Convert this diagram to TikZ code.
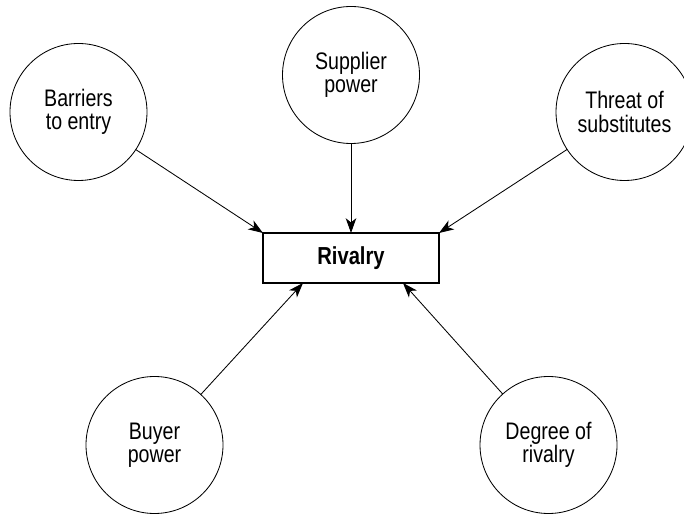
\documentclass[tikz,border=0pt]{standalone}
\usepackage{fontspec}
\setmainfont[FakeStretch=0.82]{Liberation Sans}
\usepackage{tikz}
\usetikzlibrary{arrows.meta,positioning,calc}

\begin{document}
\begin{tikzpicture}[font=\fontsize{17}{16.5}\selectfont, >={Stealth[length=10.5pt,width=7.5pt,inset=3pt]},
  force/.style={draw,circle,line width=0.6pt,minimum size=3.425cm,inner sep=0pt,outer sep=0pt,align=center},
  hub/.style={draw,line width=0.8pt,minimum width=4.4cm,minimum height=1.25cm,inner sep=0pt,outer sep=0pt,font=\fontsize{17.5}{16.5}\selectfont\bfseries},
  link/.style={->,line width=0.6pt}]
\useasboundingbox (0,0) rectangle (17.1,12.85);
% the five forces round the box
\node[hub] (rivalry) at (8.775,6.4) {Rivalry};
\node[force] (barriers) at (1.9625,10.05) {Barriers\\to entry};
\node[force] (supplier) at (8.775,10.975) {Supplier\\power};
\node[force] (threat) at (15.6125,10.05) {Threat of\\substitutes};
\node[force] (buyer) at (3.8625,1.725) {Buyer\\power};
\node[force] (degree) at (13.7125,1.725) {Degree of\\rivalry};
\coordinate (rivalry-bl) at ([xshift=1cm]rivalry.south west);
\coordinate (rivalry-br) at ([xshift=-0.9cm]rivalry.south east);
\draw[link] (barriers) -- (rivalry.north west);
\draw[link] (supplier) -- (rivalry.north);
\draw[link] (threat) -- (rivalry.north east);
\draw[link] (buyer) -- (rivalry-bl);
\draw[link] (degree) -- (rivalry-br);
\end{tikzpicture}
\end{document}
